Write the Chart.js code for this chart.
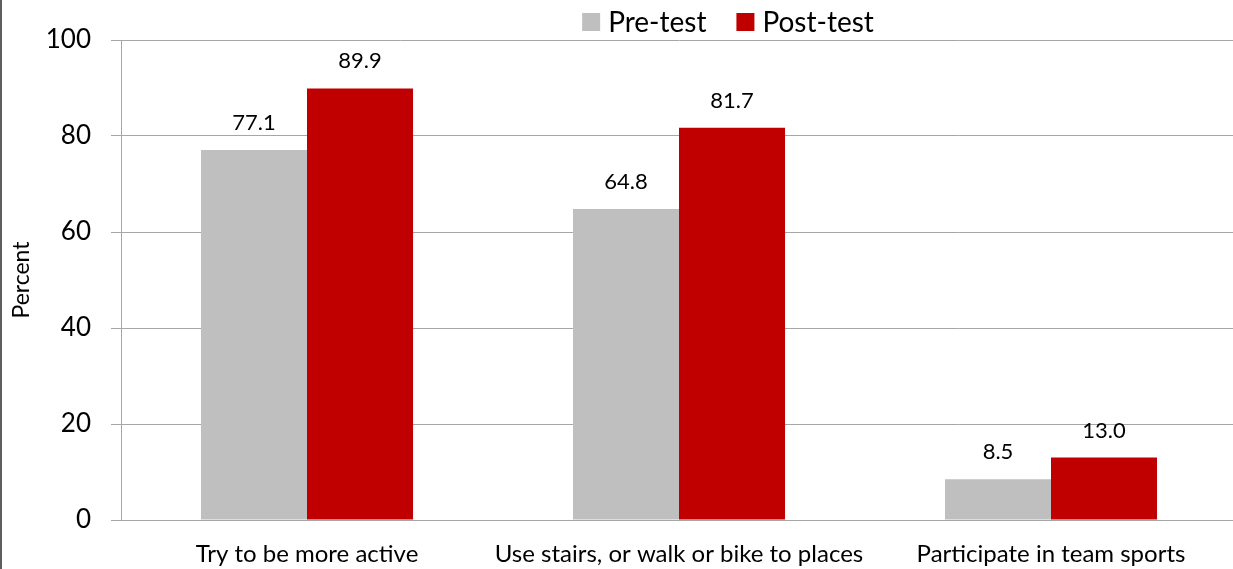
<!DOCTYPE html>
<html>
<head>
<meta charset="utf-8">
<title>Physical activity - pre/post test</title>
<script src="https://cdn.jsdelivr.net/npm/chart.js@4.4.1/dist/chart.umd.min.js"></script>
<style>
    html, body { margin: 0; padding: 0; background: #fff; }
    #wrap { position: relative; width: 1233px; height: 569px; overflow: hidden; }
    #edge { position: absolute; left: 0; top: 0; width: 2px; height: 569px; background: #5f5f5f; }
</style>
</head>
<body>
<div id="wrap">
    <canvas id="activityChart" width="1237" height="569"></canvas>
    <div id="edge"></div>
</div>
<script>
// Chart data
const categories = ['Try to be more active', 'Use stairs, or walk or bike to places', 'Participate in team sports'];
const preTest = [77.1, 64.8, 8.5];
const postTest = [89.9, 81.7, 13.0];
const seriesNames = ['Pre-test', 'Post-test'];
const yTicks = [0, 20, 40, 60, 80, 100];

const FONT = 'Lato, "Open Sans", sans-serif';
const GRID = '#a6a6a6';

// Value labels above each bar
const barLabels = {
    id: 'barLabels',
    afterDatasetsDraw(chart) {
        const ctx = chart.ctx;
        ctx.save();
        ctx.font = '22px ' + FONT;
        ctx.fillStyle = '#000';
        ctx.textAlign = 'center';
        ctx.textBaseline = 'alphabetic';
        chart.data.datasets.forEach(function(ds, i) {
            chart.getDatasetMeta(i).data.forEach(function(bar, j) {
                ctx.fillText(ds.data[j].toFixed(1), bar.x, bar.y - 20);
            });
        });
        ctx.restore();
    }
};

// Legend drawn at the top, offset like the original
const topLegend = {
    id: 'topLegend',
    afterDraw(chart) {
        const ctx = chart.ctx;
        ctx.save();
        ctx.font = '28px ' + FONT;
        ctx.textBaseline = 'middle';
        ctx.textAlign = 'left';
        const box = 18, gap = 8, spacing = 30;
        const items = chart.data.datasets.map(function(ds) {
            return { text: ds.label, color: ds.backgroundColor, w: box + gap + ctx.measureText(ds.label).width };
        });
        const total = items.reduce(function(s, it) { return s + it.w; }, 0) + spacing * (items.length - 1);
        let x = 728 - total / 2;
        const y = 22;
        items.forEach(function(it) {
            ctx.fillStyle = it.color;
            ctx.fillRect(x, y - box / 2, box, box);
            ctx.fillStyle = '#000';
            ctx.fillText(it.text, x + box + gap, y + 1);
            x += it.w + spacing;
        });
        ctx.restore();
    }
};

const ctx = document.getElementById('activityChart').getContext('2d');

new Chart(ctx, {
    type: 'bar',
    data: {
        labels: categories,
        datasets: [
            { label: seriesNames[0], data: preTest, backgroundColor: '#bfbfbf' },
            { label: seriesNames[1], data: postTest, backgroundColor: '#c00000' }
        ]
    },
    options: {
        responsive: false,
        animation: false,
        layout: { padding: { top: 40, right: 0, bottom: 0, left: 0 } },
        datasets: {
            bar: { categoryPercentage: 0.57, barPercentage: 1.0 }
        },
        scales: {
            x: {
                grid: { display: false, drawTicks: false },
                border: { display: true, color: GRID, width: 1 },
                ticks: { color: '#000', font: { family: FONT, size: 24 }, padding: 20, maxRotation: 0, autoSkip: false },
                afterFit: function(scale) { scale.height = 49; }
            },
            y: {
                min: 0,
                max: 100,
                afterBuildTicks: function(scale) {
                    scale.ticks = yTicks.map(function(v) { return { value: v }; });
                },
                grid: { color: GRID, lineWidth: 1, tickLength: 10 },
                border: { display: true, color: GRID, width: 1 },
                ticks: { color: '#000', font: { family: FONT, size: 26 }, padding: 20 },
                title: { display: true, text: 'Percent', color: '#000', font: { family: FONT, size: 23 }, padding: { top: 8, bottom: 0 } },
                afterFit: function(scale) { scale.width = 121; }
            }
        },
        plugins: {
            legend: { display: false },
            tooltip: { enabled: false }
        }
    },
    plugins: [barLabels, topLegend]
});
</script>
</body>
</html>
